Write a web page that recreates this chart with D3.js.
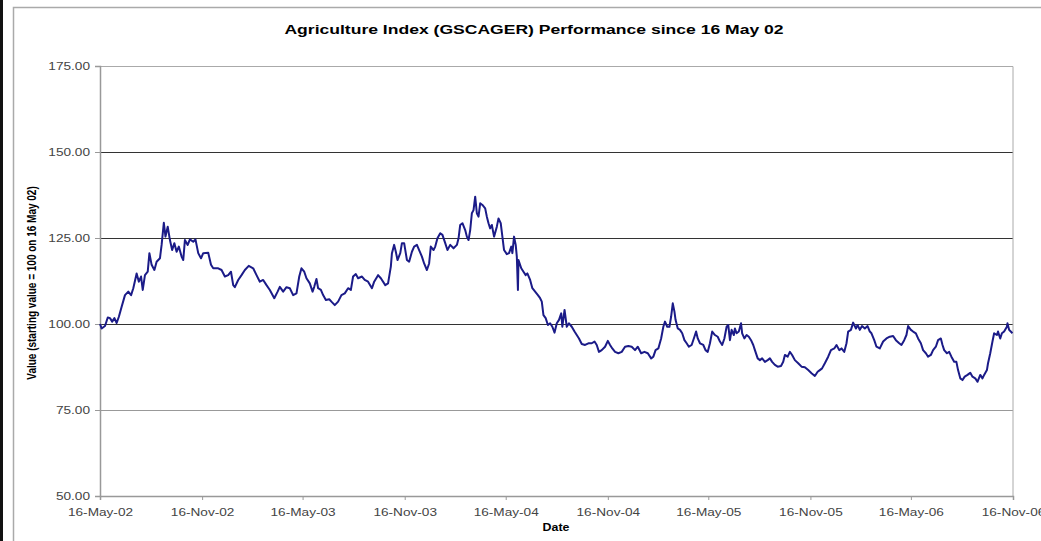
<!DOCTYPE html>
<html>
<head>
<meta charset="utf-8">
<style>
  body { margin: 0; background: #fff; }
  svg { display: block; }
  .axis text { font-family: "Liberation Sans", Arial, sans-serif; font-size: 11px; fill: #444; }
  .axis path, .axis line { stroke: #999; }
</style>
</head>
<body>
<svg width="1041" height="541"></svg>
<script src="https://cdn.jsdelivr.net/npm/d3@7"></script>
<script>

var chartTitle = "Agriculture Index (GSCAGER) Performance since 16 May 02";
var yTitle = "Value (starting value = 100 on 16 May 02)";
var xTitle = "Date";

var yTicks = [50, 75, 100, 125, 150, 175];
var xTickDates = ["2002-05-16", "2002-11-16", "2003-05-16", "2003-11-16", "2004-05-16",
                  "2004-11-16", "2005-05-16", "2005-11-16", "2006-05-16", "2006-11-16"];
var darkGrid = [100, 125, 150];
var lightGrid = [75];

// index level
var agriIndex = [
  ["2002-05-16",100.0],["2002-05-19",98.7],["2002-05-25",99.4],["2002-05-30",101.9],["2002-06-03",101.7],
  ["2002-06-07",100.7],["2002-06-11",101.7],["2002-06-15",100.3],["2002-06-19",102.1],["2002-06-24",105.0],
  ["2002-06-30",108.4],["2002-07-06",109.4],["2002-07-11",108.4],["2002-07-15",110.4],["2002-07-21",114.7],
  ["2002-07-25",112.3],["2002-07-29",113.8],["2002-08-01",109.9],["2002-08-05",114.2],["2002-08-10",115.2],
  ["2002-08-13",120.6],["2002-08-17",117.2],["2002-08-22",115.7],["2002-08-26",118.1],["2002-09-01",119.1],
  ["2002-09-04",123.0],["2002-09-08",129.4],["2002-09-11",125.4],["2002-09-15",128.3],["2002-09-19",124.4],
  ["2002-09-23",121.5],["2002-09-27",123.5],["2002-10-01",121.0],["2002-10-05",122.5],["2002-10-10",119.6],
  ["2002-10-13",118.6],["2002-10-16",124.4],["2002-10-21",123.0],["2002-10-25",124.6],["2002-10-31",123.9],
  ["2002-11-04",124.6],["2002-11-09",120.6],["2002-11-14",119.1],["2002-11-18",120.6],["2002-11-27",120.7],
  ["2002-12-02",117.2],["2002-12-06",116.2],["2002-12-15",116.2],["2002-12-21",115.7],["2002-12-27",113.8],
  ["2003-01-02",114.2],["2003-01-07",115.2],["2003-01-11",111.3],["2003-01-14",110.7],["2003-01-20",112.8],
  ["2003-01-26",114.2],["2003-02-01",115.7],["2003-02-08",116.9],["2003-02-16",116.2],["2003-02-22",114.2],
  ["2003-02-28",112.3],["2003-03-06",112.8],["2003-03-12",111.3],["2003-03-18",109.9],["2003-03-26",107.5],
  ["2003-04-01",109.4],["2003-04-05",110.8],["2003-04-11",109.4],["2003-04-17",110.7],["2003-04-23",110.4],
  ["2003-04-29",108.4],["2003-05-05",108.9],["2003-05-10",113.8],["2003-05-14",116.2],["2003-05-19",115.2],
  ["2003-05-23",113.3],["2003-05-29",111.8],["2003-06-03",109.4],["2003-06-06",110.8],["2003-06-10",113.1],
  ["2003-06-13",110.4],["2003-06-18",109.9],["2003-06-22",108.4],["2003-06-27",107.0],["2003-07-03",107.2],
  ["2003-07-07",106.5],["2003-07-13",105.5],["2003-07-19",106.5],["2003-07-25",108.4],["2003-07-31",108.9],
  ["2003-08-06",110.4],["2003-08-11",109.9],["2003-08-15",113.8],["2003-08-20",114.5],["2003-08-24",113.3],
  ["2003-08-31",113.8],["2003-09-05",112.8],["2003-09-11",112.3],["2003-09-18",110.4],["2003-09-22",112.3],
  ["2003-09-29",114.2],["2003-10-04",113.3],["2003-10-12",111.3],["2003-10-17",111.8],["2003-10-22",116.7],
  ["2003-10-24",120.6],["2003-10-28",123.0],["2003-10-31",121.0],["2003-11-03",118.6],["2003-11-08",120.6],
  ["2003-11-11",123.5],["2003-11-15",123.5],["2003-11-20",118.6],["2003-11-24",118.1],["2003-11-29",121.0],
  ["2003-12-03",122.5],["2003-12-08",123.0],["2003-12-12",121.5],["2003-12-17",119.6],["2003-12-21",117.6],
  ["2003-12-26",115.7],["2003-12-30",117.6],["2004-01-02",122.5],["2004-01-07",121.5],["2004-01-10",122.5],
  ["2004-01-14",124.9],["2004-01-19",126.4],["2004-01-23",125.9],["2004-01-28",123.5],["2004-02-01",121.5],
  ["2004-02-06",123.0],["2004-02-12",122.0],["2004-02-18",123.0],["2004-02-21",124.9],["2004-02-24",128.8],
  ["2004-02-28",129.3],["2004-03-04",127.3],["2004-03-07",125.4],["2004-03-10",124.4],["2004-03-13",127.3],
  ["2004-03-16",132.2],["2004-03-19",133.1],["2004-03-22",137.0],["2004-03-25",132.2],["2004-03-28",131.2],
  ["2004-03-31",135.1],["2004-04-04",134.6],["2004-04-09",133.6],["2004-04-12",131.2],["2004-04-15",129.3],
  ["2004-04-18",127.8],["2004-04-21",128.8],["2004-04-25",125.4],["2004-04-30",128.3],["2004-05-03",130.7],
  ["2004-05-07",129.3],["2004-05-10",125.4],["2004-05-13",121.5],["2004-05-18",120.3],["2004-05-22",120.6],
  ["2004-05-26",122.5],["2004-05-28",120.6],["2004-05-31",125.4],["2004-06-03",123.0],["2004-06-05",119.6],
  ["2004-06-07",109.9],["2004-06-08",118.6],["2004-06-13",116.2],["2004-06-17",115.2],["2004-06-21",114.2],
  ["2004-06-24",114.7],["2004-06-29",112.8],["2004-07-03",110.4],["2004-07-08",109.4],["2004-07-13",108.4],
  ["2004-07-17",107.5],["2004-07-20",106.5],["2004-07-23",102.6],["2004-07-27",101.7],["2004-07-31",99.7],
  ["2004-08-04",100.2],["2004-08-08",99.2],["2004-08-12",97.5],["2004-08-16",100.2],["2004-08-20",101.2],
  ["2004-08-24",103.1],["2004-08-26",99.2],["2004-08-30",104.1],["2004-09-03",99.2],["2004-09-07",100.2],
  ["2004-09-12",99.2],["2004-09-17",97.8],["2004-09-21",96.8],["2004-09-25",95.8],["2004-09-30",94.2],
  ["2004-10-06",93.9],["2004-10-12",94.4],["2004-10-18",94.4],["2004-10-23",94.9],["2004-10-27",93.9],
  ["2004-10-31",91.9],["2004-11-05",92.4],["2004-11-11",93.4],["2004-11-16",95.1],["2004-11-20",93.9],
  ["2004-11-24",92.9],["2004-11-29",91.9],["2004-12-05",91.5],["2004-12-11",91.9],["2004-12-17",93.4],
  ["2004-12-23",93.6],["2004-12-29",93.4],["2005-01-04",92.4],["2005-01-09",93.4],["2005-01-15",91.5],
  ["2005-01-21",91.9],["2005-01-27",91.5],["2005-02-02",90.0],["2005-02-06",90.5],["2005-02-10",92.4],
  ["2005-02-15",92.9],["2005-02-20",95.8],["2005-02-24",99.2],["2005-02-27",100.7],["2005-03-03",99.2],
  ["2005-03-07",99.2],["2005-03-10",102.1],["2005-03-13",106.0],["2005-03-16",103.6],["2005-03-18",101.2],
  ["2005-03-22",98.7],["2005-03-26",98.3],["2005-03-30",97.3],["2005-04-03",95.3],["2005-04-07",94.4],
  ["2005-04-11",93.4],["2005-04-16",93.9],["2005-04-21",96.3],["2005-04-24",97.8],["2005-04-27",95.8],
  ["2005-05-01",94.4],["2005-05-07",93.9],["2005-05-11",92.4],["2005-05-15",91.9],["2005-05-19",94.4],
  ["2005-05-23",97.8],["2005-05-28",96.8],["2005-06-02",96.3],["2005-06-06",94.9],["2005-06-10",93.9],
  ["2005-06-14",95.8],["2005-06-18",99.2],["2005-06-21",99.7],["2005-06-24",95.3],["2005-06-27",98.3],
  ["2005-07-01",96.8],["2005-07-03",98.7],["2005-07-06",97.3],["2005-07-10",97.8],["2005-07-14",100.2],
  ["2005-07-16",97.3],["2005-07-20",95.8],["2005-07-24",96.8],["2005-07-28",96.3],["2005-08-01",95.3],
  ["2005-08-05",93.9],["2005-08-08",92.4],["2005-08-13",90.0],["2005-08-17",89.5],["2005-08-21",90.0],
  ["2005-08-26",89.0],["2005-08-31",89.5],["2005-09-04",90.0],["2005-09-08",89.0],["2005-09-13",88.1],
  ["2005-09-18",87.6],["2005-09-24",87.8],["2005-09-28",89.0],["2005-10-01",91.0],["2005-10-06",90.5],
  ["2005-10-10",91.9],["2005-10-14",91.0],["2005-10-19",89.5],["2005-10-25",88.6],["2005-10-31",87.6],
  ["2005-11-06",87.4],["2005-11-12",86.6],["2005-11-18",85.7],["2005-11-24",84.9],["2005-11-29",86.1],
  ["2005-12-03",86.6],["2005-12-07",87.1],["2005-12-12",88.6],["2005-12-18",90.5],["2005-12-23",92.4],
  ["2005-12-29",92.9],["2006-01-02",93.9],["2006-01-07",92.4],["2006-01-11",92.9],["2006-01-16",91.9],
  ["2006-01-20",94.4],["2006-01-23",97.8],["2006-01-28",98.3],["2006-02-01",100.4],["2006-02-06",98.7],
  ["2006-02-09",99.7],["2006-02-13",98.3],["2006-02-17",99.4],["2006-02-22",98.7],["2006-02-27",99.4],
  ["2006-03-03",97.8],["2006-03-06",97.3],["2006-03-11",95.3],["2006-03-15",93.4],["2006-03-21",92.9],
  ["2006-03-27",94.9],["2006-04-02",95.8],["2006-04-08",96.3],["2006-04-14",96.5],["2006-04-19",95.3],
  ["2006-04-25",94.4],["2006-04-29",93.9],["2006-05-04",95.3],["2006-05-08",96.8],["2006-05-11",99.4],
  ["2006-05-16",98.3],["2006-05-20",97.8],["2006-05-25",97.3],["2006-05-29",95.8],["2006-06-03",94.4],
  ["2006-06-07",92.4],["2006-06-12",91.5],["2006-06-16",90.5],["2006-06-21",91.0],["2006-06-25",92.4],
  ["2006-06-30",93.4],["2006-07-04",95.3],["2006-07-09",95.8],["2006-07-12",93.9],["2006-07-15",92.4],
  ["2006-07-20",91.5],["2006-07-24",91.9],["2006-07-28",90.5],["2006-08-02",89.0],["2006-08-06",89.0],
  ["2006-08-09",86.6],["2006-08-13",84.2],["2006-08-17",83.7],["2006-08-21",84.7],["2006-08-26",85.2],
  ["2006-08-31",85.8],["2006-09-04",84.7],["2006-09-09",84.2],["2006-09-13",83.2],["2006-09-18",85.2],
  ["2006-09-22",84.2],["2006-09-25",85.2],["2006-09-30",86.6],["2006-10-02",88.6],["2006-10-06",91.5],
  ["2006-10-10",94.9],["2006-10-13",97.3],["2006-10-18",96.8],["2006-10-20",97.8],["2006-10-24",95.8],
  ["2006-10-27",97.3],["2006-10-31",97.8],["2006-11-05",99.2],["2006-11-06",100.2],["2006-11-09",98.3],
  ["2006-11-12",97.8],["2006-11-15",97.3]
];

var svg = d3.select("svg"),
    margin = {top: 66, right: 28, bottom: 45, left: 100},
    width = +svg.attr("width") - margin.left - margin.right,
    height = +svg.attr("height") - margin.top - margin.bottom,
    stretch = 1.24;   // the picture is a little wider than tall

var parseDate = d3.utcParse("%Y-%m-%d");
var data = agriIndex.map(function(d) { return {date: parseDate(d[0]), value: d[1]}; });

// outer chart frame
svg.append("rect").attr("x", 0).attr("y", 0).attr("width", 3).attr("height", 541).attr("fill", "#111");
svg.append("path").attr("d", "M13.5,541V7.5H1041").attr("fill", "none").attr("stroke", "#aaa").attr("stroke-width", 1.5);

var g = svg.append("g").attr("transform", "translate(" + margin.left + "," + margin.top + ")");

var x = d3.scaleUtc()
    .domain([parseDate(xTickDates[0]), parseDate(xTickDates[xTickDates.length - 1])])
    .range([0, width]);

var y = d3.scaleLinear()
    .domain([yTicks[0], yTicks[yTicks.length - 1]])
    .range([height, 0]);

// grid lines
g.selectAll(".grid-dark").data(darkGrid).enter().append("line")
    .attr("x1", 0).attr("x2", width)
    .attr("y1", function(d) { return Math.round(y(d)) + 0.5; })
    .attr("y2", function(d) { return Math.round(y(d)) + 0.5; })
    .attr("stroke", "#333");

g.selectAll(".grid-light").data(lightGrid).enter().append("line")
    .attr("x1", 0).attr("x2", width)
    .attr("y1", function(d) { return Math.round(y(d)) + 0.5; })
    .attr("y2", function(d) { return Math.round(y(d)) + 0.5; })
    .attr("stroke", "#999");

// plot border, top and right
g.append("path")
    .attr("d", "M0,0.5H" + width + "V" + height)
    .attr("fill", "none").attr("stroke", "#aaa");

// axes
var xAxis = g.append("g")
    .attr("class", "axis")
    .attr("transform", "translate(0," + height + ")")
    .call(d3.axisBottom(x)
      .tickValues(xTickDates.map(parseDate))
      .tickFormat(d3.utcFormat("%d-%b-%y"))
      .tickSizeOuter(0)
      .tickSize(4));
xAxis.selectAll("text")
    .attr("y", 12)
    .attr("transform", "scale(" + stretch + ",1)");

var yAxis = g.append("g")
    .attr("class", "axis")
    .call(d3.axisLeft(y)
      .tickValues(yTicks)
      .tickFormat(d3.format(".2f"))
      .tickSizeOuter(0)
      .tickSize(5));
yAxis.selectAll("text")
    .attr("x", -10 / stretch)
    .attr("transform", "scale(" + stretch + ",1)");

xAxis.select(".domain").attr("stroke-width", 1.5);
yAxis.select(".domain").attr("stroke-width", 1.5);

// the index line
var line = d3.line()
    .x(function(d) { return x(d.date); })
    .y(function(d) { return y(d.value); });

g.append("path")
    .datum(data)
    .attr("fill", "none")
    .attr("stroke", "#1b1b88")
    .attr("stroke-width", 2)
    .attr("stroke-linejoin", "round")
    .attr("d", line);

// titles
svg.append("text")
    .attr("transform", "translate(534,34) scale(1.35,1)")
    .attr("text-anchor", "middle")
    .attr("font-family", "Liberation Sans, Arial, sans-serif")
    .attr("font-size", 13)
    .attr("font-weight", "bold")
    .text(chartTitle);

svg.append("text")
    .attr("transform", "translate(36,283) scale(" + stretch + ",1) rotate(-90)")
    .attr("text-anchor", "middle")
    .attr("font-family", "Liberation Sans, Arial, sans-serif")
    .attr("font-size", 10)
    .attr("font-weight", "bold")
    .text(yTitle);

svg.append("text")
    .attr("transform", "translate(556,531) scale(" + stretch + ",1)")
    .attr("text-anchor", "middle")
    .attr("font-family", "Liberation Sans, Arial, sans-serif")
    .attr("font-size", 10)
    .attr("font-weight", "bold")
    .text(xTitle);

</script>
</body>
</html>
